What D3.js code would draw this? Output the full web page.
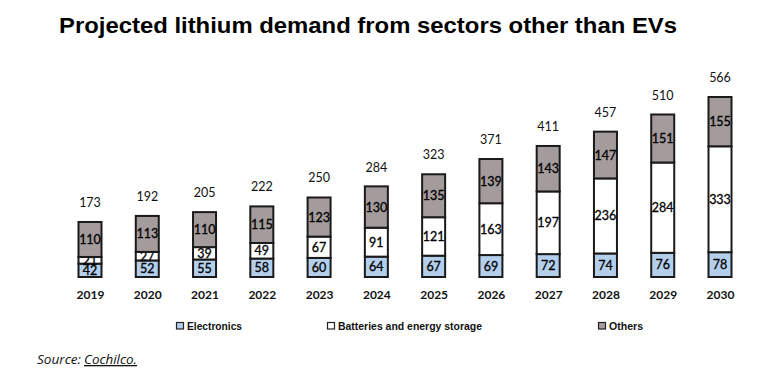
<!DOCTYPE html>
<html>
<head>
<meta charset="utf-8">
<script src="https://cdn.jsdelivr.net/npm/d3@7"></script>
<style>
  body { margin: 0; background: #fff; }
  svg { display: block; }
</style>
</head>
<body>
<svg id="canvas" width="759" height="373"></svg>
<script>
let years = ['2019', '2020', '2021', '2022', '2023', '2024', '2025', '2026', '2027', '2028', '2029', '2030']
let electronics = [42, 52, 55, 58, 60, 64, 67, 69, 72, 74, 76, 78]
let batteries = [21, 27, 39, 49, 67, 91, 121, 163, 197, 236, 284, 333]
let others = [110, 113, 110, 115, 123, 130, 135, 139, 143, 147, 151, 155]
let totals = [173, 192, 205, 222, 250, 284, 323, 371, 411, 457, 510, 566]
let seriesNames = ['Electronics', 'Batteries and energy storage', 'Others']
let seriesColors = ['#b4cfec', '#ffffff', '#a49c9c']

let canvas = d3.select('#canvas')

let rows = years.map((y, i) => ({
  year: y, Electronics: electronics[i], 'Batteries and energy storage': batteries[i], Others: others[i], total: totals[i]
}))

let x = d3.scalePoint().domain(years).range([90, 720])
let yScale = d3.scaleLinear().domain([0, 566]).range([277, 97])
let barW = 23

// title
canvas.append('text')
      .attr('x', 59).attr('y', 33)
      .attr('font-family', 'Liberation Sans, Arial, sans-serif')
      .attr('font-weight', 'bold')
      .attr('font-size', 22.5)
      .attr('textLength', 618)
      .attr('lengthAdjust', 'spacingAndGlyphs')
      .attr('fill', '#000')
      .text('Projected lithium demand from sectors other than EVs')

let stacked = d3.stack().keys(seriesNames)(rows)

let layers = canvas.selectAll('g.layer')
      .data(stacked)
      .enter()
      .append('g')
      .attr('class', 'layer')
      .attr('fill', (d, i) => seriesColors[i])

layers.selectAll('rect')
      .data(d => d)
      .enter()
      .append('rect')
      .attr('x', d => x(d.data.year) - barW / 2)
      .attr('y', d => yScale(d[1]))
      .attr('width', barW)
      .attr('height', d => yScale(d[0]) - yScale(d[1]))
      .attr('stroke', '#1a1a1a')
      .attr('stroke-width', 2)

layers.selectAll('text')
      .data(d => d)
      .enter()
      .append('text')
      .attr('x', d => x(d.data.year))
      .attr('y', d => (yScale(d[0]) + yScale(d[1])) / 2 + 4.5)
      .attr('text-anchor', 'middle')
      .attr('font-family', 'Lato, sans-serif')
      .attr('font-size', 12.5)
      .attr('stroke', '#000')
      .attr('stroke-width', 0.3)
      .attr('fill', '#000')
      .text(d => d[1] - d[0])

// totals above bars
canvas.selectAll('text.total')
      .data(rows)
      .enter()
      .append('text')
      .attr('class', 'total')
      .attr('x', d => x(d.year))
      .attr('y', d => yScale(d.total) - 15)
      .attr('text-anchor', 'middle')
      .attr('font-family', 'Lato, sans-serif')
      .attr('font-size', 12.5)
      .attr('fill', '#111')
      .text(d => d.total)

// year axis labels
let axis = d3.axisBottom(x).tickSize(0).tickPadding(0)
let axisG = canvas.append('g')
      .attr('transform', 'translate(0,290)')
      .call(axis)
axisG.select('.domain').remove()
axisG.selectAll('text')
      .attr('font-family', 'Lato, sans-serif')
      .attr('font-weight', 'bold')
      .attr('font-size', 12)
      .attr('fill', '#111')

// legend
let legendX = [176, 327, 598]
let legendW = [55, 144, 34]
let legend = canvas.selectAll('g.legend')
      .data(seriesNames)
      .enter()
      .append('g')
      .attr('class', 'legend')
      .attr('transform', (d, i) => 'translate(' + legendX[i] + ',322)')
legend.append('rect')
      .attr('x', 0.5).attr('y', 0.5)
      .attr('width', 7).attr('height', 6.5)
      .attr('fill', (d, i) => seriesColors[i])
      .attr('stroke', '#222')
      .attr('stroke-width', 1.2)
legend.append('text')
      .attr('x', 11).attr('y', 7.5)
      .attr('font-family', 'Liberation Sans, Arial, sans-serif')
      .attr('font-weight', 'bold')
      .attr('font-size', 10.5)
      .attr('textLength', (d, i) => legendW[i])
      .attr('lengthAdjust', 'spacingAndGlyphs')
      .attr('fill', '#111')
      .text(d => d)

// source
canvas.append('text')
      .attr('x', 37).attr('y', 364)
      .attr('font-family', 'Open Sans, sans-serif')
      .attr('font-style', 'italic')
      .attr('font-size', 13)
      .attr('textLength', 44)
      .attr('lengthAdjust', 'spacingAndGlyphs')
      .attr('fill', '#111')
      .text('Source:')
canvas.append('text')
      .attr('x', 84).attr('y', 364)
      .attr('font-family', 'Open Sans, sans-serif')
      .attr('font-style', 'italic')
      .attr('font-size', 13)
      .attr('textLength', 53)
      .attr('lengthAdjust', 'spacingAndGlyphs')
      .attr('text-decoration', 'underline')
      .attr('fill', '#111')
      .text('Cochilco.')
</script>
</body>
</html>
